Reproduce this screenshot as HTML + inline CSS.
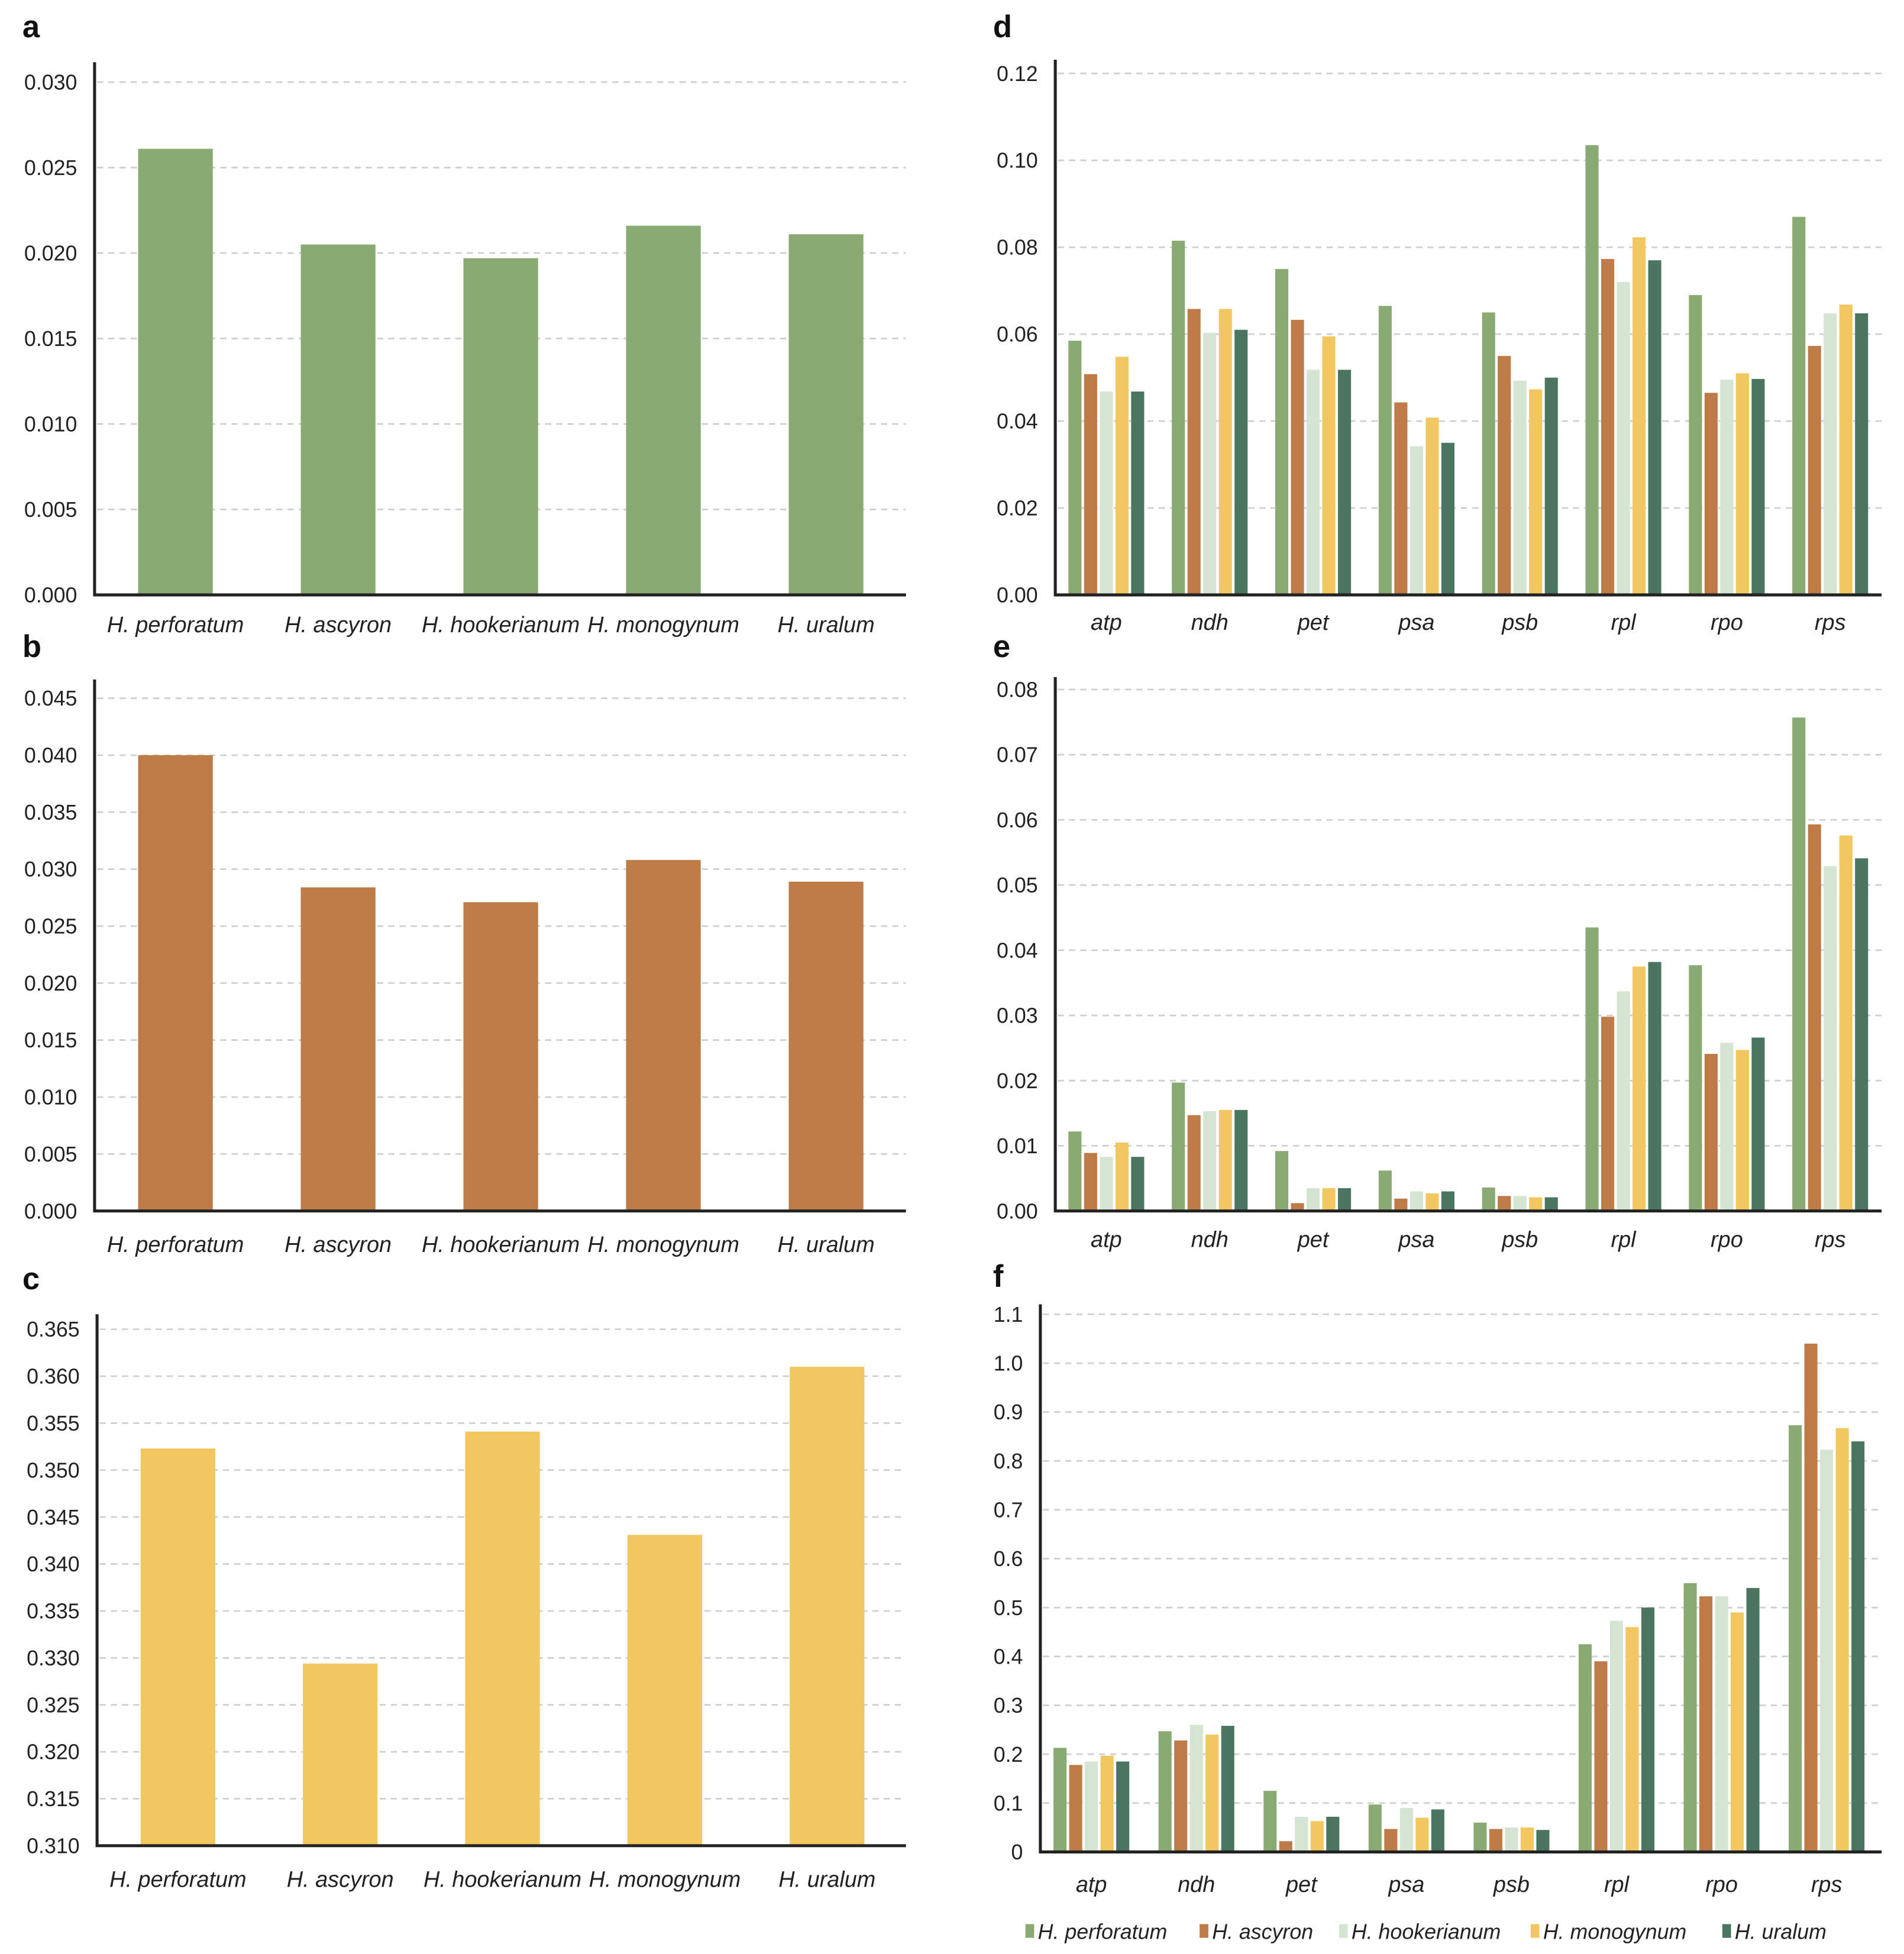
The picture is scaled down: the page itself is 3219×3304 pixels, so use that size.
<!DOCTYPE html>
<html><head><meta charset="utf-8"><style>
html,body{margin:0;padding:0;background:#fff;}
svg{display:block;font-family:"Liberation Sans",Arial,sans-serif;}
</style></head><body>
<svg id="fig" width="3219" height="3304" viewBox="0 0 1530 1570" preserveAspectRatio="none" xmlns="http://www.w3.org/2000/svg"></svg>
<script>
const species = ["H. perforatum","H. ascyron","H. hookerianum","H. monogynum","H. uralum"];
const genes = ["atp","ndh","pet","psa","psb","rpl","rpo","rps"];
const colors = ["#8aaa74","#bf7b47","#d5e4d3","#f3c75f","#4a7560"];
const aValues = [0.0261,0.0205,0.0197,0.0216,0.0211];
const bValues = [0.0400,0.0284,0.0271,0.0308,0.0289];
const cValues = [0.3523,0.3294,0.3541,0.3431,0.3610];
const aTicks = ["0.000","0.005","0.010","0.015","0.020","0.025","0.030"];
const bTicks = ["0.000","0.005","0.010","0.015","0.020","0.025","0.030","0.035","0.040","0.045"];
const cTicks = ["0.310","0.315","0.320","0.325","0.330","0.335","0.340","0.345","0.350","0.355","0.360","0.365"];
const dPerforatum = [0.0585,0.0815,0.0750,0.0665,0.0650,0.1035,0.0690,0.0870];
const dAscyron = [0.0508,0.0658,0.0633,0.0443,0.0550,0.0773,0.0465,0.0573];
const dHookerianum = [0.0468,0.0603,0.0518,0.0342,0.0493,0.0720,0.0495,0.0648];
const dMonogynum = [0.0548,0.0658,0.0595,0.0408,0.0473,0.0823,0.0510,0.0668];
const dUralum = [0.0468,0.0610,0.0518,0.0350,0.0500,0.0770,0.0497,0.0648];
const ePerforatum = [0.0122,0.0197,0.0092,0.0062,0.0036,0.0435,0.0377,0.0757];
const eAscyron = [0.0089,0.0147,0.0012,0.0019,0.0023,0.0298,0.0241,0.0593];
const eHookerianum = [0.0083,0.0153,0.0035,0.0030,0.0023,0.0337,0.0258,0.0529];
const eMonogynum = [0.0105,0.0155,0.0035,0.0027,0.0021,0.0375,0.0247,0.0576];
const eUralum = [0.0083,0.0155,0.0035,0.0030,0.0021,0.0382,0.0266,0.0541];
const fPerforatum = [0.213,0.247,0.125,0.097,0.060,0.425,0.550,0.873];
const fAscyron = [0.178,0.228,0.022,0.047,0.047,0.390,0.523,1.040];
const fHookerianum = [0.185,0.260,0.072,0.090,0.050,0.473,0.523,0.823];
const fMonogynum = [0.197,0.240,0.063,0.070,0.050,0.460,0.490,0.867];
const fUralum = [0.185,0.258,0.072,0.087,0.045,0.500,0.540,0.840];
const dTicks = ["0.00","0.02","0.04","0.06","0.08","0.10","0.12"];
const eTicks = ["0.00","0.01","0.02","0.03","0.04","0.05","0.06","0.07","0.08"];
const fTicks = ["0","0.1","0.2","0.3","0.4","0.5","0.6","0.7","0.8","0.9","1.0","1.1"];

const NS="http://www.w3.org/2000/svg";
const svg=document.getElementById('fig');
function mk(tag,attrs,parent){const e=document.createElementNS(NS,tag);for(const k in attrs)e.setAttribute(k,attrs[k]);(parent||svg).appendChild(e);return e;}

function panel(p){
  const g=mk('g',{});
  
  
  const lt=mk('text',{x:p.lx,y:p.ly,'font-size':25,'font-weight':'bold',fill:'#111'},g);
  lt.textContent=p.letter;
  
  
  const n=p.ticks.length;
  const tMin=parseFloat(p.ticks[0]), tMax=parseFloat(p.ticks[n-1]);
  const y=v=>p.bottom-(v-tMin)/(tMax-tMin)*(p.bottom-p.topTick);
  p.ticks.forEach((t,i)=>{
    const yy=y(parseFloat(t));
    if(i>0){const gl=mk('line',{x1:p.x0+2,x2:p.x1,y1:yy,y2:yy,stroke:'#cfcfcf','stroke-width':1.3,'stroke-dasharray':'5,4'},g);
      
      }
    const tx=mk('text',{x:p.x0-14,y:yy+6,'font-size':17,'text-anchor':'end',fill:'#222'},g);
    tx.textContent=t;
    
    
  });
  const n2=p.cats.length;
  const cx=i=>p.cx0+i*p.step;
  p.series.forEach((vals,s)=>{
    vals.forEach((v,i)=>{
      const off=p.series.length>1?(s-(p.series.length-1)/2)*p.bstep:0;
      const x=cx(i)+off-p.bw/2;
      const r=mk('rect',{x:x,y:y(v),width:p.bw,height:p.bottom-y(v),fill:p.colors[s]},g);
      
      
    });
  });
  const ax=mk('line',{x1:p.x0,x2:p.x0,y1:p.axTop,y2:p.bottom+1,stroke:'#222','stroke-width':2.4},g);
  
  
  const bx=mk('line',{x1:p.x0-1,x2:p.x1,y1:p.bottom,y2:p.bottom,stroke:'#222','stroke-width':2.4},g);
  
  
  p.cats.forEach((c,i)=>{
    const tx=mk('text',{x:cx(i),y:p.labelY,'font-size':18,'font-style':'italic','text-anchor':'middle',fill:'#222'},g);
    tx.textContent=c;
    
    
  });
}
panel({letter:'a',lx:18,ly:30,x0:76,x1:728,axTop:50,bottom:478,topTick:66,ticks:aTicks,cats:species,cx0:141,step:130.7,bw:60,bstep:0,series:[aValues],colors:[colors[0]],labelY:508});
panel({letter:'b',lx:18,ly:528,x0:76,x1:728,axTop:546,bottom:973,topTick:561,ticks:bTicks,cats:species,cx0:141,step:130.7,bw:60,bstep:0,series:[bValues],colors:[colors[1]],labelY:1006});
panel({letter:'c',lx:18,ly:1036,x0:78,x1:728,axTop:1056,bottom:1483,topTick:1068,ticks:cTicks,cats:species,cx0:143,step:130.4,bw:60,bstep:0,series:[cValues],colors:[colors[3]],labelY:1516});
panel({letter:'d',lx:798,ly:30,x0:848,x1:1512,axTop:48,bottom:478,topTick:59,ticks:dTicks,cats:genes,cx0:889,step:83.1,bw:10.5,bstep:12.6,series:[dPerforatum,dAscyron,dHookerianum,dMonogynum,dUralum],colors:colors,labelY:506});
panel({letter:'e',lx:798,ly:528,x0:848,x1:1512,axTop:544,bottom:973,topTick:554,ticks:eTicks,cats:genes,cx0:889,step:83.1,bw:10.5,bstep:12.6,series:[ePerforatum,eAscyron,eHookerianum,eMonogynum,eUralum],colors:colors,labelY:1002});
panel({letter:'f',lx:798,ly:1034,x0:836,x1:1512,axTop:1048,bottom:1488,topTick:1056,ticks:fTicks,cats:genes,cx0:877,step:84.4,bw:10.5,bstep:12.6,series:[fPerforatum,fAscyron,fHookerianum,fMonogynum,fUralum],colors:colors,labelY:1520});

const leg=mk('g',{});


const legX=[824,964,1076,1230,1384];
species.forEach((s,i)=>{
  const r=mk('rect',{x:legX[i],y:1546,width:7,height:11,fill:colors[i]},leg);
  
  
  const t=mk('text',{x:legX[i]+10,y:1558,'font-size':17,'font-style':'italic',fill:'#222'},leg);
  t.textContent=s;
  
  
});
</script>
</body></html>
